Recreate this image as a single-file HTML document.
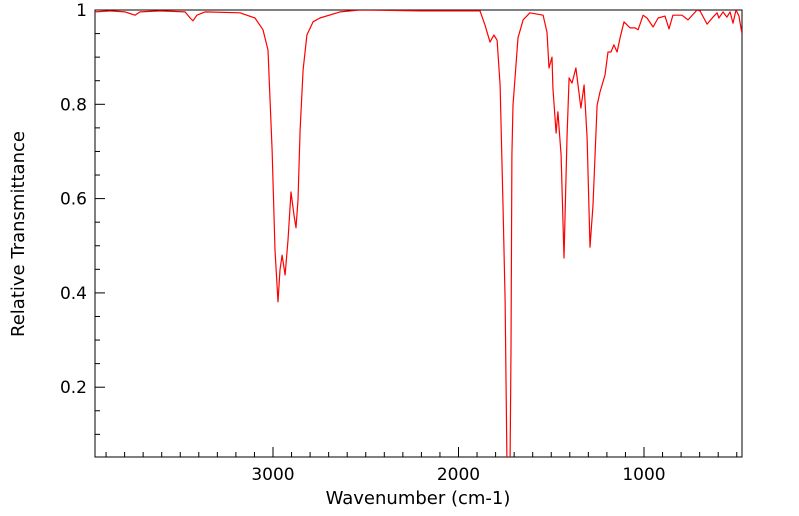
<!DOCTYPE html>
<html><head><meta charset="utf-8"><style>
body{margin:0;background:#fff;}
svg{display:block;font-family:"DejaVu Sans","Liberation Sans",sans-serif;}
</style></head><body>
<svg id="chart" width="799" height="516">
<defs><clipPath id="clip"><rect x="95" y="10" width="647" height="447"/></clipPath></defs>
<g id="axes"></g>
<g id="plot" clip-path="url(#clip)"></g>
<text x="418" y="504" text-anchor="middle" font-size="18">Wavenumber (cm-1)</text>
<text transform="translate(24,234) rotate(-90)" text-anchor="middle" font-size="18">Relative Transmittance</text>
</svg>
<script>
const wavenumbers=[3960,3879,3798,3744,3717,3609,3474,3447,3431,3410,3367,3178,3097,3054,3027,3005,2989,2973,2962,2951,2935,2919,2903,2887,2876,2865,2854,2838,2817,2784,2747,2639,2531,2208,1884,1857,1830,1809,1792,1776,1760,1749,1739,1730,1722,1717,1712,1706,1679,1652,1615,1544,1523,1512,1496,1491,1474,1464,1447,1431,1415,1404,1388,1367,1340,1323,1307,1291,1275,1253,1237,1210,1194,1178,1162,1145,1129,1108,1075,1048,1032,1005,984,951,924,887,865,844,795,763,714,698,660,628,606,596,574,553,536,520,504,488,483,472];
const transmittance=[0.996,0.998,0.996,0.989,0.996,0.998,0.996,0.983,0.977,0.989,0.996,0.994,0.983,0.958,0.915,0.703,0.491,0.381,0.449,0.480,0.438,0.512,0.614,0.565,0.538,0.597,0.745,0.873,0.947,0.975,0.983,0.996,1.0,0.998,0.998,0.968,0.932,0.947,0.936,0.841,0.586,0.385,0.05,0.02,0.05,0.279,0.692,0.798,0.941,0.979,0.994,0.989,0.953,0.877,0.900,0.835,0.739,0.784,0.692,0.474,0.729,0.856,0.845,0.877,0.792,0.841,0.729,0.497,0.586,0.798,0.826,0.862,0.911,0.911,0.926,0.911,0.941,0.975,0.962,0.962,0.958,0.989,0.983,0.964,0.983,0.987,0.960,0.989,0.989,0.979,1.0,0.998,0.970,0.985,0.994,0.983,0.996,0.985,0.996,0.972,1.0,0.987,0.975,0.951];
const xTickValues=[3000,2000,1000];
const yTickValues=[0.2,0.4,0.6,0.8,1];
const yTickLabels=["0.2","0.4","0.6","0.8","1"];

const NS="http://www.w3.org/2000/svg";
function xs(w){return 273+(3000-w)*0.1855;}
function ys(t){return 10+(1-t)*471.5;}
function mk(tag,attrs,parent){const e=document.createElementNS(NS,tag);for(const k in attrs)e.setAttribute(k,attrs[k]);parent.appendChild(e);return e;}
const axes=document.getElementById('axes');
const plot=document.getElementById('plot');
const frame=mk('rect',{x:95,y:10,width:647,height:447,fill:'none',stroke:'#000','stroke-width':1},axes);


for(let w=500;w<=3900;w+=100){
  const major=w%1000===0;
  const x=xs(w);
  const t=mk('line',{x1:x,x2:x,y1:457,y2:457-(major?10:5),stroke:'#000','stroke-width':1},axes);
  
  
}
xTickValues.forEach(v=>{
  const t=mk('text',{x:xs(v),y:480,'text-anchor':'middle','font-size':17},axes);
  t.textContent=String(v);
  
  
});
for(let i=1;i<=19;i++){
  const v=i*0.05;
  if(ys(v)>457)continue;
  const major=i%4===0;
  const y=ys(v);
  const t=mk('line',{x1:95,x2:95+(major?10:5),y1:y,y2:y,stroke:'#000','stroke-width':1},axes);
  
  
}
yTickValues.forEach((v,i)=>{
  const t=mk('text',{x:87,y:ys(v)+6,'text-anchor':'end','font-size':17},axes);
  t.textContent=yTickLabels[i];
  
  
});
const pts=wavenumbers.map((w,i)=>xs(w).toFixed(1)+','+ys(transmittance[i]).toFixed(1)).join(' ');
const line=mk('polyline',{points:pts,fill:'none',stroke:'#ff0000','stroke-width':1.2,'stroke-linejoin':'round'},plot);


</script>
</body></html>
